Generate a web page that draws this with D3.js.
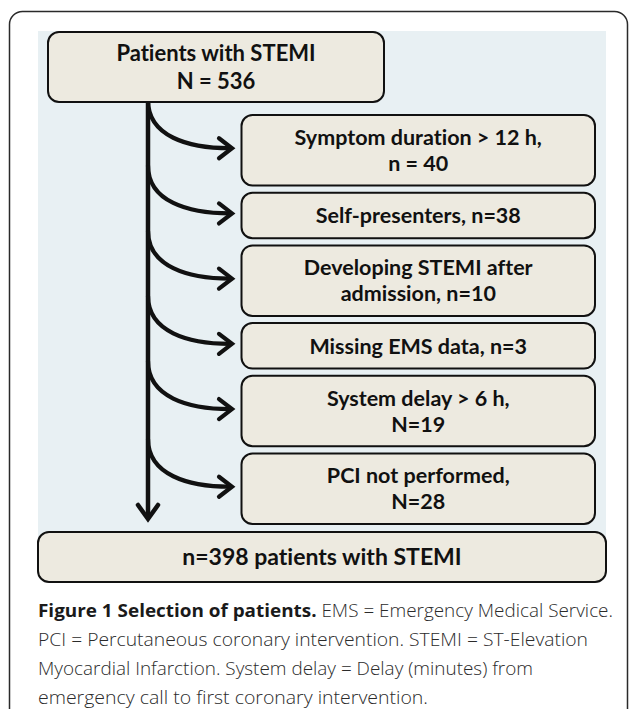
<!DOCTYPE html>
<html>
<head>
<meta charset="utf-8">
<script src="https://cdn.jsdelivr.net/npm/d3@7"></script>
<style>
  html, body { margin: 0; padding: 0; background: #ffffff; }
  svg { display: block; }
</style>
</head>
<body>
<script>
// ---------------- data ----------------
const startLines = ["Patients with STEMI", "N = 536"];
const exclusionLines = [
  ["Symptom duration > 12 h,", "n = 40"],
  ["Self-presenters, n=38"],
  ["Developing STEMI after", "admission, n=10"],
  ["Missing EMS data, n=3"],
  ["System delay > 6 h,", "N=19"],
  ["PCI not performed,", "N=28"]
];
const exclusionCounts = [40, 38, 10, 3, 19, 28];
const finalLabel = "n=398 patients with STEMI";
const captionBold = "Figure 1 Selection of patients.";
const captionLines = [
  " EMS = Emergency Medical Service.",
  "PCI = Percutaneous coronary intervention. STEMI = ST-Elevation",
  "Myocardial Infarction. System delay = Delay (minutes) from",
  "emergency call to first coronary intervention."
];

// ---------------- layout ----------------
const W = 629, H = 709;
const svg = d3.select("body").append("svg").attr("width", W).attr("height", H);

const beige = "#edeae0", panelBlue = "#e8f0f3", ink = "#111111";
const boxFont = "Lato, 'Open Sans', sans-serif";

// outer frame
svg.append("rect").attr("x", 9.5).attr("y", 11.5).attr("width", 618).attr("height", 740)
  .attr("rx", 13).attr("fill", "#fff").attr("stroke", "#2a2a2a").attr("stroke-width", 1.5);

// blue panel
svg.append("rect").attr("x", 38).attr("y", 31).attr("width", 568).attr("height", 525)
  .attr("fill", panelBlue);

// exclusion box vertical positions computed from line counts
const oneLineH = 45.5, twoLineH = 70.5, gap = 7.2, firstTop = 115;
let cur = firstTop;
const boxes = exclusionLines.map((lines, i) => {
  const h = lines.length > 1 ? twoLineH : oneLineH;
  const b = { lines, count: exclusionCounts[i], y: cur, h };
  cur += h + gap;
  return b;
});

const trunkX = 148;
const boxX0 = 241.5, boxX1 = 595;
const tipX = 232;

// start box
const startBox = { x: 48, y: 32, w: 336, h: 70 };
// final box
const finalBox = { x: 38, y: 532, w: 568, h: 50 };

// trunk
const trunkBottom = 519;
svg.append("line")
  .attr("x1", trunkX).attr("x2", trunkX)
  .attr("y1", startBox.y + startBox.h).attr("y2", trunkBottom - 1)
  .attr("stroke", ink).attr("stroke-width", 4.5).attr("stroke-linecap", "butt");
// trunk arrowhead (down)
svg.append("path")
  .attr("d", d3.line()([[trunkX - 10, trunkBottom - 14], [trunkX, trunkBottom], [trunkX + 10, trunkBottom - 14]]))
  .attr("fill", "none").attr("stroke", ink).attr("stroke-width", 4.5)
  .attr("stroke-linecap", "round").attr("stroke-linejoin", "miter");

// curved branch arrows
const branch = svg.append("g");
boxes.forEach((b, i) => {
  const tipY = b.y + b.h / 2 - 2;
  const y0 = tipY - 48;
  const p = d3.path();
  p.moveTo(trunkX, y0);
  p.bezierCurveTo(trunkX, y0 + 36, trunkX + 40, tipY, tipX - 2, tipY);
  branch.append("path").attr("d", p.toString())
    .attr("fill", "none").attr("stroke", ink).attr("stroke-width", 4.2);
  branch.append("path")
    .attr("d", d3.line()([[tipX - 13, tipY - 10], [tipX, tipY], [tipX - 13, tipY + 10]]))
    .attr("fill", "none").attr("stroke", ink).attr("stroke-width", 4.2)
    .attr("stroke-linecap", "round").attr("stroke-linejoin", "miter");
});

// helper to draw box with centered lines
function drawBox(x, y, w, h, lines, size, lineGap) {
  const g = svg.append("g");
  g.append("rect").attr("x", x).attr("y", y).attr("width", w).attr("height", h)
    .attr("rx", 11).attr("fill", beige).attr("stroke", ink).attr("stroke-width", 2);
  const cx = x + w / 2, cy = y + h / 2;
  const n = lines.length;
  lines.forEach((t, j) => {
    g.append("text")
      .attr("x", cx)
      .attr("y", cy + (j - (n - 1) / 2) * lineGap)
      .attr("dy", "0.36em")
      .attr("text-anchor", "middle")
      .attr("font-family", boxFont).attr("font-weight", 700)
      .attr("font-size", size).attr("fill", ink)
      .style("font-variant-ligatures", "none")
      .text(t);
  });
}

drawBox(startBox.x, startBox.y, startBox.w, startBox.h, startLines, 22, 28);
boxes.forEach(b => drawBox(boxX0, b.y, boxX1 - boxX0, b.h, b.lines, 21.5, 26));
drawBox(finalBox.x, finalBox.y, finalBox.w, finalBox.h, [finalLabel], 23, 0);

// caption
const capX = 38, capBase = [617, 646, 675, 704];
const capWidths = [575, 550, 495, 390];
const capFont = "'Open Sans', 'Noto Sans', sans-serif";
captionLines.forEach((t, i) => {
  const tx = svg.append("text")
    .attr("x", capX).attr("y", capBase[i])
    .attr("font-family", capFont).attr("font-size", 17.5).attr("fill", "#2b2b2b")
    .attr("textLength", capWidths[i]).attr("lengthAdjust", "spacingAndGlyphs");
  if (i === 0) {
    tx.append("tspan").attr("font-weight", 700).attr("fill", "#1a1a1a").text(captionBold);
  }
  tx.append("tspan").attr("font-weight", 300).text(t);
});
</script>
</body>
</html>
